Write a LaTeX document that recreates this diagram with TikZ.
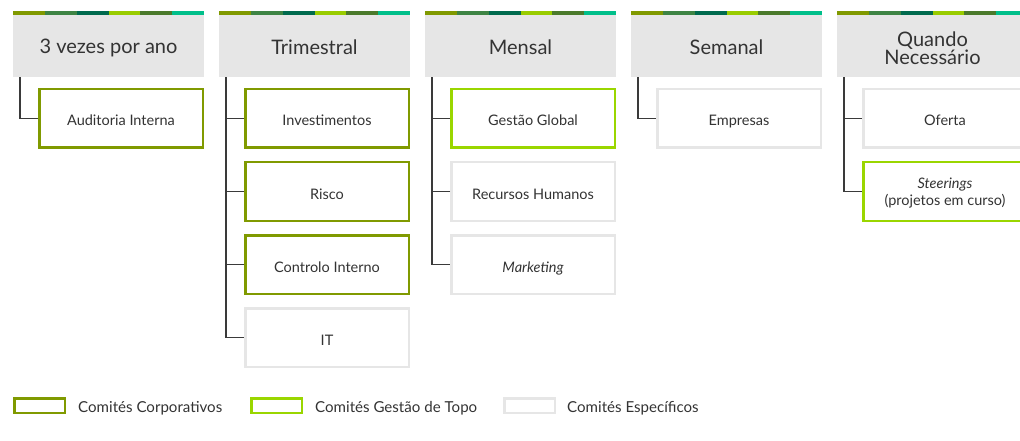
\documentclass[tikz,border=0pt]{standalone}
\usepackage{fontspec}
\setmainfont{Lato}
\definecolor{corp}{HTML}{809A00}
\definecolor{topo}{HTML}{9AD600}
\definecolor{espec}{HTML}{E6E6E6}
\definecolor{hdr}{HTML}{E6E6E6}
\definecolor{txt}{HTML}{333333}
\definecolor{linec}{HTML}{3A3A3A}
\definecolor{bA}{HTML}{809900}
\definecolor{bB}{HTML}{3E8444}
\definecolor{bC}{HTML}{006A4E}
\definecolor{bD}{HTML}{99CC00}
\definecolor{bE}{HTML}{4B7A2B}
\definecolor{bF}{HTML}{00BF8A}
\tikzset{
  hdrbox/.style={fill=hdr, minimum width=191pt, minimum height=62pt, inner sep=0pt, text=txt, font=\fontsize{20}{17}\selectfont, align=center, text height=18pt, text depth=0pt},
  combox/.style={draw, line width=2.5pt, fill=white, minimum width=163.5pt, minimum height=58.5pt, inner sep=0pt, text=txt, font=\fontsize{14.5}{17}\selectfont, align=center, text height=15pt, text depth=0pt},
  corpbox/.style={combox, draw=corp},
  topobox/.style={combox, draw=topo},
  specbox/.style={combox, draw=espec},
  legbox/.style={draw, line width=2.5pt, fill=white, minimum width=50.5pt, minimum height=14.5pt, inner sep=0pt},
  legtext/.style={anchor=west, inner sep=0pt, text=txt, font=\fontsize{15.1}{17}\selectfont, text height=13pt, text depth=0pt},
  conn/.style={draw=linec, line width=1.1pt},
  bar/.pic={
    \fill[bA] (0,0) rectangle (31.83,4);
    \fill[bB] (31.83,0) rectangle (63.67,4);
    \fill[bC] (63.67,0) rectangle (95.5,4);
    \fill[bD] (95.5,0) rectangle (127.33,4);
    \fill[bE] (127.33,0) rectangle (159.17,4);
    \fill[bF] (159.17,0) rectangle (191,4);
  }
}
\begin{document}
\begin{tikzpicture}[x=1pt,y=-1pt]
\useasboundingbox (0,0) rectangle (1020,441);
\clip (0,0) rectangle (1020,441);

% colour bars
\foreach \L in {13,219,425,631,837} { \pic at (\L,11) {bar}; }

% headers
\node[hdrbox, text height=16pt] (h1) at (108.5,46) {3 vezes por ano};
\node[hdrbox] (h2) at (314.5,46) {Trimestral};
\node[hdrbox] (h3) at (520.5,46) {Mensal};
\node[hdrbox] (h4) at (726.5,46) {Semanal};
\node[hdrbox, text height=38pt] (h5) at (932.5,46) {Quando\\Necessário};

% spine coordinates
\foreach \i in {1,...,5} { \coordinate (v\i) at ([xshift=-88.5pt]h\i.south); }

% column 1
\node[corpbox] (c11) at (121,118.5) {Auditoria Interna};
% column 2
\node[corpbox] (c21) at (327,118.5) {Investimentos};
\node[corpbox] (c22) at (327,191.5) {Risco};
\node[corpbox] (c23) at (327,264.5) {Controlo Interno};
\node[specbox] (c24) at (327,337.5) {IT};
% column 3
\node[topobox] (c31) at (533,118.5) {Gestão Global};
\node[specbox] (c32) at (533,191.5) {Recursos Humanos};
\node[specbox] (c33) at (533,264.5) {\itshape Marketing};
% column 4
\node[specbox] (c41) at (739,118.5) {Empresas};
% column 5
\node[specbox] (c51) at (945,118.5) {Oferta};
\node[topobox, text height=27pt] (c52) at (945,191.5) {{\itshape Steerings}\\(projetos em curso)};

% connectors
\draw[conn] (v1) |- (c11.west);
\draw[conn] (v2) |- (c24.west);
\draw[conn] (c21.west) -- (c21.west -| v2);
\draw[conn] (c22.west) -- (c22.west -| v2);
\draw[conn] (c23.west) -- (c23.west -| v2);
\draw[conn] (v3) |- (c33.west);
\draw[conn] (c31.west) -- (c31.west -| v3);
\draw[conn] (c32.west) -- (c32.west -| v3);
\draw[conn] (v4) |- (c41.west);
\draw[conn] (v5) |- (c52.west);
\draw[conn] (c51.west) -- (c51.west -| v5);

% legend
\node[legbox, draw=corp] (l1) at (39.5,405.5) {};
\node[legtext] (t1) at (78,405.5) {Comités Corporativos};
\node[legbox, draw=topo] (l2) at (276.5,405.5) {};
\node[legtext] (t2) at (315,405.5) {Comités Gestão de Topo};
\node[legbox, draw=espec] (l3) at (529.5,405.5) {};
\node[legtext] (t3) at (567,405.5) {Comités Específicos};
\end{tikzpicture}
\end{document}
